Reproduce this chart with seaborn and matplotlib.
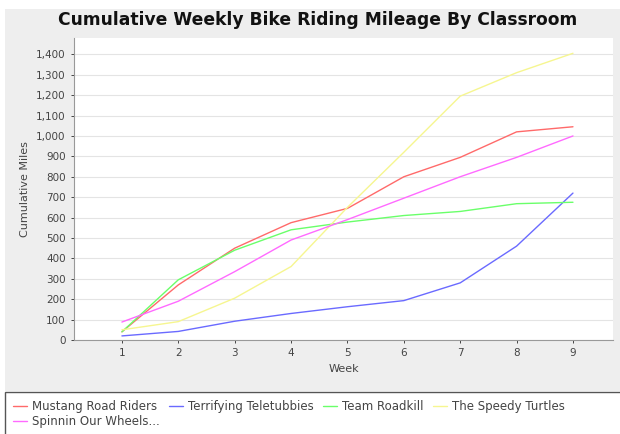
import pandas as pd
import matplotlib.pyplot as plt
import matplotlib.ticker as ticker
from matplotlib.patches import Rectangle
import seaborn as sns

# values
weeks = [1, 2, 3, 4, 5, 6, 7, 8, 9]
mustang = [40, 270, 450, 575, 645, 800, 895, 1020, 1045]
teletubbies = [20, 42, 92, 130, 163, 193, 280, 460, 720]
roadkill = [40, 295, 440, 540, 578, 610, 630, 668, 675]
turtles = [50, 90, 205, 360, 650, 920, 1195, 1310, 1405]
spinnin = [88, 190, 335, 490, 590, 695, 800, 895, 1000]

teams = ['Mustang Road Riders', 'Terrifying Teletubbies', 'Team Roadkill',
         'The Speedy Turtles', 'Spinnin Our Wheels...']
colors = ['#ff6a6a', '#6a6aff', '#6aff6a', '#f6f690', '#ff6aff']

series = [mustang, teletubbies, roadkill, turtles, spinnin]
df = pd.DataFrame({
    'Week': weeks * len(teams),
    'Miles': [v for s in series for v in s],
    'Team': [t for t in teams for _ in weeks],
})

sns.set_style('white')
plt.rcParams['font.family'] = ['DejaVu Sans']

fig = plt.figure(figsize=(6.2, 4.34), dpi=100, facecolor='white')
# grey chart panel and white legend box behind the axes
fig.patches.append(Rectangle((5 / 620, 43 / 434), 615 / 620, 382 / 434,
                             transform=fig.transFigure, facecolor='#eeeeee',
                             edgecolor='none', zorder=-10))
fig.patches.append(Rectangle((5 / 620, -0.01), 0.995, 42 / 434 + 0.01,
                             transform=fig.transFigure, facecolor='white',
                             edgecolor='#555555', linewidth=1, zorder=-10))

ax = fig.add_axes([74 / 620, 94 / 434, 539 / 620, 302 / 434])
sns.lineplot(data=df, x='Week', y='Miles', hue='Team', hue_order=teams,
             palette=colors, linewidth=1, ax=ax, legend=False)

ax.set_facecolor('white')
ax.set_xlim(0.15, 9.71)
ax.set_ylim(0, 1480)
ax.set_xticks(weeks)
ax.yaxis.set_major_locator(ticker.MultipleLocator(100))
ax.yaxis.set_major_formatter(ticker.FuncFormatter(lambda v, p: f'{v:,.0f}'))
ax.grid(axis='y', color='#e4e4e4', linewidth=0.8)
ax.tick_params(axis='both', labelsize=7.5, colors='#444444', length=2.5,
               width=0.7, direction='out', left=True, bottom=True)
for side in ['top', 'right']:
    ax.spines[side].set_visible(False)
for side in ['left', 'bottom']:
    ax.spines[side].set_color('#999999')
    ax.spines[side].set_linewidth(0.8)

ax.set_xlabel('Week', fontsize=8, color='#444444', labelpad=4)
ax.set_ylabel('Cumulative Miles', fontsize=8, color='#444444', labelpad=4)
fig.text(0.512, 1 - 20 / 434, 'Cumulative Weekly Bike Riding Mileage By Classroom',
         ha='center', va='center', fontsize=12.3, fontweight='bold',
         color='#111111')

# legend laid out row by row: reorder so the 5th entry starts row two
handles = [plt.Line2D([], [], color=c, linewidth=1) for c in colors]
order = [0, 4, 1, 2, 3]
fig.legend([handles[i] for i in order], [teams[i] for i in order],
           ncol=4, loc='upper left', bbox_to_anchor=(6 / 620, 1 - 393 / 434),
           frameon=False, fontsize=8.5, handlelength=1.2, handletextpad=0.4,
           columnspacing=0.8, labelspacing=0.15, borderpad=0.1,
           labelcolor='#444444')

fig.savefig('out.png', dpi=100, facecolor='white')
